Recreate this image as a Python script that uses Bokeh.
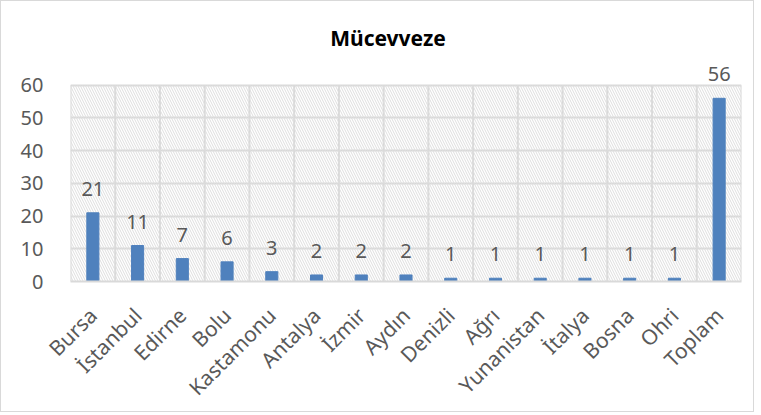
import numpy as np
from bokeh.plotting import figure
from bokeh.models import (ColumnDataSource, LabelSet, Label, FixedTicker,
                          BoxAnnotation, Range1d)
from bokeh.core.properties import value
from bokeh.embed import file_html
from bokeh.resources import INLINE

categories = ["Bursa", "İstanbul", "Edirne", "Bolu", "Kastamonu", "Antalya",
              "İzmir", "Aydın", "Denizli", "Ağrı", "Yunanistan", "İtalya",
              "Bosna", "Ohri", "Toplam"]
values = [21, 11, 7, 6, 3, 2, 2, 2, 1, 1, 1, 1, 1, 1, 56]
y_ticks = [0, 10, 20, 30, 40, 50, 60]
title_text = "Mücevveze"

FONT = "Noto Sans"
GREY_TXT = "#595959"
GRID = "#d9d9d9"
BAR = "#4F81BD"

n = len(categories)
centers = np.arange(n) + 0.5
bounds = np.arange(n + 1)
y0, y1 = y_ticks[0], y_ticks[-1]

# layout (pixels)
W, H = 754, 412
LEFT, RIGHT, TOP, BOTTOM = 69, 14, 8, 131
AXIS_TOP_PX = 84          # distance from figure top to the "60" line
frame_h = H - TOP - BOTTOM
plot_h = frame_h - (AXIS_TOP_PX - TOP)
y_end = y0 + (y1 - y0) * frame_h / plot_h

src = ColumnDataSource(dict(x=centers, top=values,
                            lbl=[str(v) for v in values]))
grid_src = ColumnDataSource(dict(x=bounds, b=[y0] * len(bounds),
                                 t=[y1] * len(bounds)))

p = figure(width=W, height=H, output_backend="svg", toolbar_location=None,
           x_range=Range1d(0, n), y_range=Range1d(y0, y_end),
           min_border_left=LEFT, min_border_right=RIGHT, min_border_top=TOP,
           min_border_bottom=BOTTOM)
p.title.visible = False
p.outline_line_color = None
p.styles = {"border": "1px solid #d9d9d9"}

hatch = BoxAnnotation(left=0, right=n, bottom=y0, top=y1,
                      fill_alpha=0, line_alpha=0, hatch_pattern="\\",
                      hatch_color="#dedede", hatch_scale=5, hatch_weight=1,
                      level="underlay")
p.add_layout(hatch)

# vertical grid lines at category boundaries, limited to the value range
p.segment(x0="x", y0="b", x1="x", y1="t", source=grid_src,
          line_color=GRID, line_width=2, level="underlay")

p.vbar(x="x", top="top", width=0.27, source=src, color=BAR)

p.add_layout(LabelSet(x="x", y="top", text="lbl", source=src, y_offset=17,
                      text_align="center", text_baseline="alphabetic",
                      text_font=value(FONT), text_font_size=value("20px"),
                      text_color=GREY_TXT))

p.add_layout(Label(x=n / 2, y=y1, x_offset=-18, y_offset=47, text=title_text,
                   text_font=FONT, text_font_size="21px",
                   text_font_style="bold", text_color="black",
                   text_align="center", text_baseline="middle"))

# axes
p.yaxis.ticker = FixedTicker(ticks=y_ticks)
p.yaxis.axis_line_color = None
p.yaxis.major_tick_line_color = None
p.yaxis.minor_tick_line_color = None
p.yaxis.major_label_standoff = 21
p.yaxis.major_label_text_font = FONT
p.yaxis.major_label_text_font_size = "20px"
p.yaxis.major_label_text_color = GREY_TXT

p.xaxis.ticker = FixedTicker(ticks=list(centers))
p.xaxis.major_label_overrides = {float(c): cat for c, cat in zip(centers, categories)}
p.xaxis.major_label_orientation = np.pi / 4
p.xaxis.axis_line_color = GRID
p.xaxis.axis_line_width = 2
p.xaxis.major_tick_line_color = None
p.xaxis.minor_tick_line_color = None
p.xaxis.major_label_standoff = 24
p.xaxis.major_label_text_font = FONT
p.xaxis.major_label_text_font_size = "21px"
p.xaxis.major_label_text_color = GREY_TXT

p.xgrid.visible = False
p.ygrid.ticker = FixedTicker(ticks=y_ticks)
p.ygrid.grid_line_color = GRID
p.ygrid.grid_line_width = 2

open("out.html", "w").write(file_html(p, INLINE))
